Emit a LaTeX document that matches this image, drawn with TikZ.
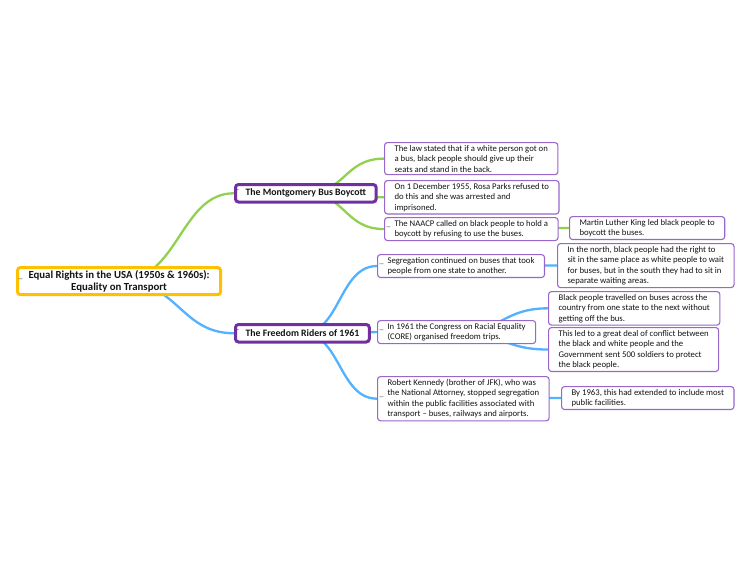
\documentclass[tikz,border=0pt]{standalone}
\usepackage{fontspec}
\setmainfont{Carlito}
\usepackage{tikz}

\definecolor{rootorange}{HTML}{FFC000}
\definecolor{topicpurple}{HTML}{7030A0}
\definecolor{leafpurple}{HTML}{9966CC}
\definecolor{boycottgreen}{HTML}{92D050}
\definecolor{ridersblue}{HTML}{52B2FF}
\definecolor{inktext}{HTML}{141414}

\pgfdeclarelayer{background}
\pgfsetlayers{background,main}

\tikzset{
  rootbox/.style={draw=rootorange, line width=3pt, rounded corners=3pt, fill=white, text=inktext,
    align=center, font=\fontsize{10.8}{12.5}\selectfont\bfseries, inner xsep=11pt, inner ysep=2.5pt, anchor=north west},
  topicbox/.style={draw=topicpurple, line width=3pt, rounded corners=3pt, fill=white, text=inktext,
    font=\fontsize{9.8}{10}\selectfont\bfseries, inner xsep=10pt, inner ysep=2pt, minimum height=17.5pt, anchor=north west},
  leafbox/.style={draw=leafpurple, line width=1.1pt, rounded corners=3pt, fill=white, text=inktext,
    align=left, font=\fontsize{8.7}{10.5}\selectfont, inner xsep=10pt, inner ysep=2.5pt, anchor=north west},
  toggle/.style={label={[anchor=west, xshift=2.5pt, yshift=2pt, inner sep=0pt, text=inktext!80, font=\fontsize{8}{8}\selectfont]west:#1}},
  toggle/.default=\_,
  gline/.style={draw=boycottgreen, line width=2.3pt, line cap=round},
  bline/.style={draw=ridersblue, line width=2.3pt, line cap=round}
}

\begin{document}
\begin{tikzpicture}[x=1pt, y=-1pt]
\useasboundingbox (0,0) rectangle (750,563);

\node[rootbox, toggle] (root) at (16,266) {Equal Rights in the USA (1950s \& 1960s):\\ Equality on Transport};

\node[topicbox, toggle=-] (mbb) at (234,183) {The Montgomery Bus Boycott};
\node[topicbox, toggle=-] (fr) at (234,323) {The Freedom Riders of 1961};

% Montgomery Bus Boycott
\node[leafbox] (law) at (384,142) {The law stated that if a white person got on\\ a bus, black people should give up their\\ seats and stand in the back.};
\node[leafbox] (parks) at (384,180) {On 1 December 1955, Rosa Parks refused to\\ do this and she was arrested and\\ imprisoned.};
\node[leafbox, toggle] (naacp) at (384,217) {The NAACP called on black people to hold a\\ boycott by refusing to use the buses.};
\node[leafbox] (mlk) at (569,216) {Martin Luther King led black people to\\ boycott the buses.};

% Freedom Riders
\node[leafbox, toggle] (segr) at (377,254) {Segregation continued on buses that took\\ people from one state to another.};
\node[leafbox] (north) at (557,243) {In the north, black people had the right to\\ sit in the same place as white people to wait\\ for buses, but in the south they had to sit in\\ separate waiting areas.};
\node[leafbox] (travel) at (548,291) {Black people travelled on buses across the\\ country from one state to the next without\\ getting off the bus.};
\node[leafbox, toggle] (core) at (377,320) {In 1961 the Congress on Racial Equality\\ (CORE) organised freedom trips.};
\node[leafbox] (conflict) at (548,327) {This led to a great deal of conflict between\\ the black and white people and the\\ Government sent 500 soldiers to protect\\ the black people.};
\node[leafbox, toggle] (kennedy) at (377,376) {Robert Kennedy (brother of JFK), who was\\ the National Attorney, stopped segregation\\ within the public facilities associated with\\ transport -- buses, railways and airports.};
\node[leafbox] (by63) at (561,386) {By 1963, this had extended to include most\\ public facilities.};

\begin{pgfonlayer}{background}
  \fill[white] (0,0) rectangle (750,563);
  \draw[gline] (root.center) .. controls +(60,0) and +(-54,0) .. (mbb.west);
  \draw[bline] (root.center) .. controls +(60,0) and +(-54,0) .. (fr.west);
  \foreach \leaf in {law,parks,naacp}
    \draw[gline] (mbb.center) .. controls +(40,0) and +(-40,0) .. (\leaf.west);
  \draw[gline] (naacp.center) .. controls +(50,0) and +(-50,0) .. (mlk.west);
  \foreach \leaf in {segr,core,kennedy}
    \draw[bline] (fr.center) .. controls +(38,0) and +(-38,0) .. (\leaf.west);
  \draw[bline] (segr.center) .. controls +(50,0) and +(-50,0) .. (north.west);
  \foreach \leaf in {travel,conflict}
    \draw[bline] (core.center) .. controls +(45,0) and +(-45,0) .. (\leaf.west);
  \draw[bline] (kennedy.center) .. controls +(50,0) and +(-50,0) .. (by63.west);
\end{pgfonlayer}
\end{tikzpicture}
\end{document}
